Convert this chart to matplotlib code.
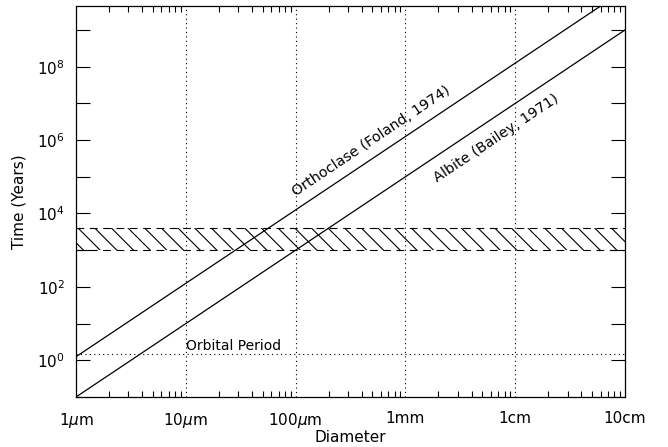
import numpy as np
import matplotlib
matplotlib.use("Agg")
import matplotlib.pyplot as plt
from matplotlib.ticker import FixedLocator, FuncFormatter, LogLocator, NullFormatter

# Diameters in metres, times in years
diam_ends = [1e-6, 1e-1]
orthoclase_time = [1.25, 1.25e10]   # t proportional to D^2
albite_time = [0.1, 1e9]
band_low, band_high = 1000.0, 4000.0
orbital_period = 1.45

x_ticks = [1e-6, 1e-5, 1e-4, 1e-3, 1e-2, 1e-1]
x_labels = [r"1$\mu$m", r"10$\mu$m", r"100$\mu$m", "1mm", "1cm", "10cm"]
y_exponents = list(range(-1, 10))

plt.rcParams["font.family"] = ["DejaVu Sans"]
plt.rcParams["hatch.linewidth"] = 0.8

fig = plt.figure(figsize=(6.68, 4.47), dpi=100)
ax = fig.add_axes([76 / 668, 1 - 397 / 447, (625 - 76) / 668, (397 - 6) / 447])
ax.set_xscale("log")
ax.set_yscale("log")
ax.set_xlim(1e-6, 1e-1)
ax.set_ylim(0.1, 4.5e9)

# Vertical dotted grid at each decade
for xv in x_ticks[1:-1]:
    ax.axvline(xv, color="black", lw=0.8, ls=(0, (1, 3)), zorder=1)

# Orbital period reference
ax.axhline(orbital_period, color="black", lw=0.8, ls=(0, (1, 3)), zorder=1)
ax.text(1e-5, orbital_period * 1.12, "Orbital Period", fontsize=10,
        ha="left", va="bottom")

# Hatched band
ax.fill_between(diam_ends, band_low, band_high, facecolor="none",
                edgecolor="black", hatch="\\\\", linewidth=0, zorder=2)
for yv in (band_low, band_high):
    ax.axhline(yv, color="black", lw=0.8, ls=(0, (7, 5)), zorder=2)

# Diffusion lines
ax.plot(diam_ends, orthoclase_time, color="black", lw=0.9, zorder=3)
ax.plot(diam_ends, albite_time, color="black", lw=0.9, zorder=3)

angle = np.degrees(np.arctan(2 * (391 / np.log10(4.5e9 / 0.1)) / (549 / 5)))
ax.text(10 ** -3.313, 10 ** 5.975, "Orthoclase (Foland, 1974)", fontsize=10.4,
        rotation=angle, rotation_mode="anchor", ha="center", va="center")
ax.text(10 ** -2.175, 10 ** 6.057, "Albite (Bailey, 1971)", fontsize=10.4,
        rotation=angle, rotation_mode="anchor", ha="center", va="center")

# Axes ticks
ax.xaxis.set_major_locator(FixedLocator(x_ticks))
ax.set_xticklabels(x_labels)
ax.xaxis.set_minor_locator(LogLocator(base=10, subs=np.arange(2, 10), numticks=20))
ax.xaxis.set_minor_formatter(NullFormatter())

ax.yaxis.set_major_locator(FixedLocator([10.0 ** e for e in y_exponents]))
ax.yaxis.set_major_formatter(FuncFormatter(
    lambda v, p: (r"$10^{%d}$" % round(np.log10(v))) if round(np.log10(v)) % 2 == 0 and round(np.log10(v)) >= 0 else ""))
ax.yaxis.set_minor_locator(FixedLocator([]))

ax.tick_params(axis="both", which="both", direction="in", top=True, right=True,
               labelsize=11, width=0.8)
ax.tick_params(axis="x", which="major", length=0, pad=10)
ax.tick_params(axis="x", which="minor", length=4)
ax.tick_params(axis="y", which="major", length=10, pad=8)
for s in ax.spines.values():
    s.set_linewidth(0.9)

ax.set_xlabel("Diameter", fontsize=11, labelpad=0)
ax.set_ylabel("Time (Years)", fontsize=11, labelpad=8)

fig.savefig("out.png", dpi=100)
